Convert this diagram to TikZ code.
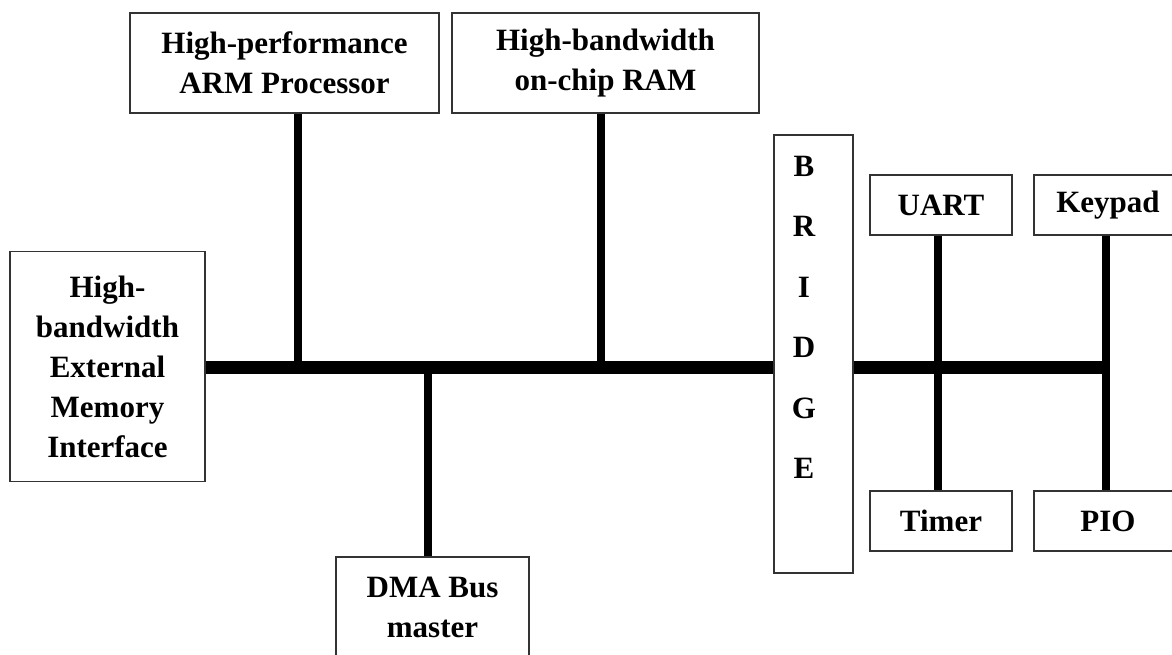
\documentclass[tikz,border=0pt]{standalone}
\usepackage{fontspec}
\setmainfont{Liberation Serif}
\begin{document}
\begin{tikzpicture}[x=1pt,y=-1pt,
  box/.style={draw=black!80, line width=1.6pt, fill=white, rectangle, inner sep=0pt,
              align=center, font=\fontsize{31}{40}\selectfont\bfseries},
  letters/.style={inner sep=0pt, align=center, font=\fontsize{31}{60.4}\selectfont\bfseries},
  bus/.style={line width=13pt, black},
  tap/.style={line width=8pt, black}]
\useasboundingbox (0,0) rectangle (1172,654);
\fill[white] (0,0) rectangle (1172,654);

% nodes
\node[box, minimum width=195pt, minimum height=230pt] (ext) at (107.5,366.5)
  {High-\\bandwidth\\External\\Memory\\Interface};
\node[box, minimum width=309pt, minimum height=100pt] (arm) at (284.5,63)
  {High-performance\\ARM Processor};
\node[box, minimum width=307pt, minimum height=100pt] (ram) at (605.5,63)
  {High-bandwidth\\on-chip RAM};
\node[box, minimum width=193pt, minimum height=100pt] (dma) at (432.5,607)
  {DMA Bus\\master};
\node[box, minimum width=79pt, minimum height=438pt] (bridge) at (813.5,354) {};
\node[letters, anchor=north] (bridgetext) at (804,156) {B\\R\\I\\D\\G\\E};
\node[box, minimum width=142pt, minimum height=60pt] (uart) at (941,205) {UART};
\node[box, minimum width=148pt, minimum height=60pt] (keypad) at (1108,205) {Keypad};
\node[box, minimum width=142pt, minimum height=60pt] (timer) at (941,521) {Timer};
\node[box, minimum width=148pt, minimum height=60pt] (pio) at (1108,521) {PIO};

% bus tap points
\coordinate (tarm) at (298,367);
\coordinate (tram) at (601,367);
\coordinate (tdma) at (428,367);
\coordinate (tuart) at (938,367);
\coordinate (tkey) at (1106,367);

% buses
\draw[bus] (ext.east |- tarm) -- (bridge.west |- tarm);
\draw[bus] (bridge.east |- tkey) -- ([xshift=4pt]tkey);

% taps
\draw[tap] (tarm |- arm.south) -- (tarm);
\draw[tap] (tram |- ram.south) -- (tram);
\draw[tap] (tdma) -- (tdma |- dma.north);
\draw[tap] (tuart |- uart.south) -- (tuart |- timer.north);
\draw[tap] (tkey |- keypad.south) -- (tkey |- pio.north);
\end{tikzpicture}
\end{document}
